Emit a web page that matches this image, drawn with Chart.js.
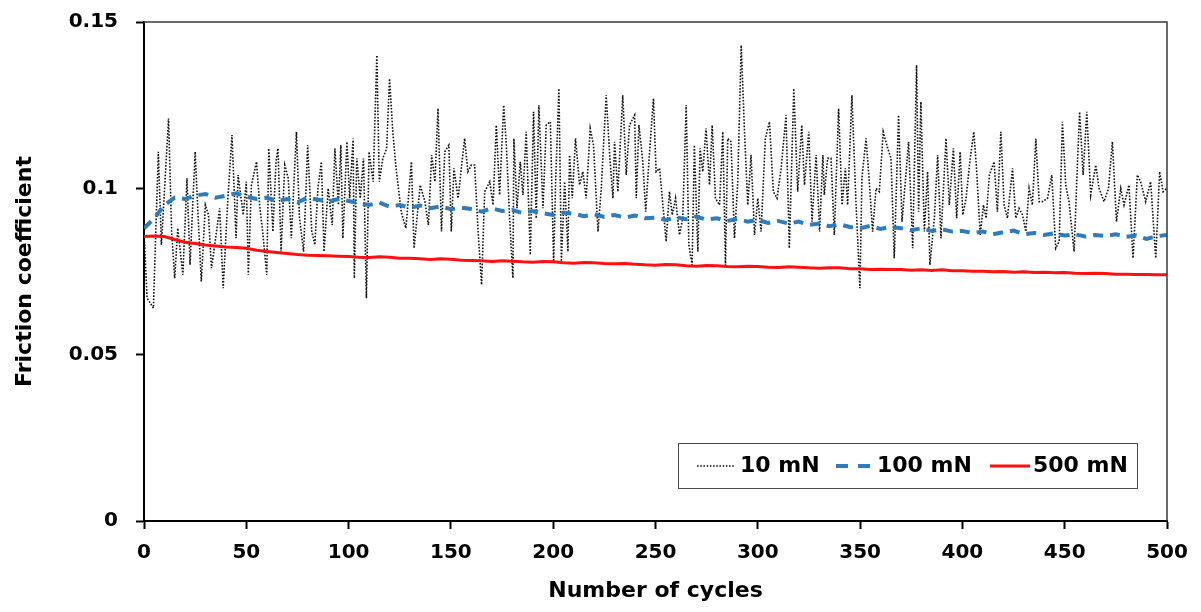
<!DOCTYPE html>
<html>
<head>
<meta charset="utf-8">
<script src="https://cdn.jsdelivr.net/npm/chart.js"></script>
<style>
	body { margin: 0; background: #fff; }
	#frictionChart { display: block; }
</style>
</head>
<body>
<canvas id="frictionChart" width="1201" height="612"></canvas>
<script>
// 10 mN (irregular spacing)
var cycles10 = [
	0, 1.5, 4.6, 7, 8.5, 12, 13.5, 15, 16.5, 19,
	21, 22.5, 25, 26.5, 28, 30, 31.5, 33, 35, 37,
	38.7, 41, 43, 45, 46, 48.5, 50, 51, 52.5, 55,
	56.5, 58, 60, 61, 63, 64.5, 65.5, 67, 68.8, 70.5,
	72, 74.5, 76, 78, 80, 82, 83.5, 85, 86.7, 88,
	90, 92, 93.3, 95, 96.2, 97.2, 99.2, 100.5, 102.2, 102.8,
	104, 105.7, 107.3, 108.7, 110, 112, 113.8, 115, 116.7, 118.6,
	120, 121.6, 123.2, 125.7, 128, 130.7, 132, 135, 137.3, 139,
	140.6, 142.2, 143.7, 145.4, 147, 149, 150.2, 151.5, 153.5, 156.7,
	158.3, 160, 161.6, 163.3, 165, 166.5, 169, 170.6, 172.2, 173.8,
	175.8, 177.1, 178.7, 180.3, 180.8, 182.3, 183.9, 185.2, 186.8, 188.8,
	190.4, 191.7, 193, 195, 196.6, 198.6, 200.2, 201.2, 202.8, 204,
	205.6, 207.2, 208, 209.3, 210.9, 212.9, 214.5, 216.1, 218.1, 219.7,
	221.9, 223.5, 225.9, 227.6, 229.2, 230, 231.6, 234, 235.7, 237.3,
	239.8, 240.6, 241.9, 243.8, 245.2, 247.1, 249, 250.3, 252, 253.6,
	255.2, 256.8, 258.2, 259.8, 261.7, 263.3, 265, 266.3, 267.9, 269,
	270.7, 271.8, 273.1, 274.7, 276.4, 277.7, 279.3, 281.3, 282.9, 284.2,
	285.3, 286.9, 288.6, 290.2, 291.9, 293.5, 295.1, 296.7, 298.4, 300,
	301.6, 303.7, 305.7, 307.6, 309.4, 311.4, 313.8, 315.4, 317.6, 319.5,
	321.5, 322.8, 324.9, 326.5, 328.5, 330.2, 331.8, 332.5, 334.1, 335.8,
	337.4, 339.5, 341.2, 342.8, 343.9, 346, 347.9, 349.9, 350.9, 352.9,
	354.5, 356.1, 357.8, 359.4, 361.3, 363.5, 365.1, 366.7, 368.8, 370.5,
	372.1, 373.7, 375.7, 377.6, 378.6, 379.7, 381.4, 383, 384.1, 386.3,
	387.9, 389.5, 392, 393.6, 395.6, 397.2, 398.9, 400.2, 401.8, 403.8,
	405.6, 407, 408.7, 410.3, 411.6, 413.2, 415.5, 417.1, 418.8, 420.4,
	422, 424.5, 426.1, 427.7, 429.4, 431, 432.6, 434.2, 435.9, 437.5,
	439.1, 441.6, 443.7, 445.6, 447.3, 448.9, 450.5, 452.1, 454.6, 456.2,
	457.3, 459, 460.8, 462.7, 465.2, 466.8, 469.2, 471.4, 473.3, 475.3,
	477.4, 479, 481.4, 483.4, 485.5, 487.1, 489.6, 492, 494.5, 496.4,
	498.1, 500
];
var mu10 = [
	0.087, 0.067, 0.064, 0.111, 0.083, 0.121, 0.087, 0.073, 0.088, 0.074,
	0.103, 0.077, 0.111, 0.091, 0.072, 0.095, 0.092, 0.076, 0.085, 0.094,
	0.070, 0.097, 0.116, 0.085, 0.104, 0.092, 0.102, 0.074, 0.101, 0.108,
	0.095, 0.087, 0.074, 0.112, 0.087, 0.108, 0.112, 0.081, 0.107, 0.103,
	0.085, 0.117, 0.091, 0.081, 0.113, 0.087, 0.083, 0.100, 0.108, 0.081,
	0.100, 0.089, 0.112, 0.095, 0.113, 0.085, 0.114, 0.097, 0.115, 0.073,
	0.109, 0.097, 0.109, 0.067, 0.111, 0.102, 0.140, 0.102, 0.109, 0.112,
	0.133, 0.117, 0.106, 0.093, 0.088, 0.108, 0.082, 0.101, 0.096, 0.089,
	0.110, 0.102, 0.124, 0.087, 0.111, 0.113, 0.087, 0.106, 0.097, 0.115,
	0.105, 0.107, 0.107, 0.087, 0.071, 0.099, 0.102, 0.095, 0.119, 0.098,
	0.125, 0.113, 0.091, 0.073, 0.115, 0.094, 0.108, 0.098, 0.117, 0.080,
	0.123, 0.091, 0.125, 0.094, 0.119, 0.120, 0.078, 0.102, 0.130, 0.078,
	0.102, 0.081, 0.110, 0.097, 0.115, 0.101, 0.105, 0.097, 0.118, 0.113,
	0.087, 0.100, 0.128, 0.110, 0.097, 0.114, 0.099, 0.128, 0.104, 0.119,
	0.122, 0.097, 0.119, 0.108, 0.093, 0.111, 0.127, 0.105, 0.106, 0.095,
	0.084, 0.099, 0.092, 0.097, 0.086, 0.091, 0.125, 0.083, 0.077, 0.113,
	0.081, 0.112, 0.105, 0.118, 0.101, 0.119, 0.097, 0.095, 0.117, 0.077,
	0.115, 0.114, 0.085, 0.102, 0.143, 0.117, 0.095, 0.110, 0.086, 0.097,
	0.087, 0.115, 0.120, 0.099, 0.097, 0.106, 0.122, 0.082, 0.130, 0.099,
	0.119, 0.101, 0.117, 0.090, 0.110, 0.087, 0.110, 0.098, 0.109, 0.109,
	0.086, 0.124, 0.095, 0.106, 0.095, 0.128, 0.097, 0.070, 0.103, 0.115,
	0.102, 0.087, 0.100, 0.099, 0.117, 0.112, 0.109, 0.079, 0.122, 0.090,
	0.102, 0.114, 0.082, 0.137, 0.093, 0.126, 0.087, 0.105, 0.077, 0.091,
	0.110, 0.085, 0.115, 0.095, 0.112, 0.091, 0.111, 0.092, 0.097, 0.109,
	0.117, 0.105, 0.086, 0.095, 0.091, 0.104, 0.108, 0.093, 0.117, 0.095,
	0.091, 0.106, 0.091, 0.094, 0.092, 0.087, 0.100, 0.095, 0.115, 0.096,
	0.096, 0.097, 0.104, 0.082, 0.084, 0.120, 0.101, 0.096, 0.081, 0.107,
	0.123, 0.104, 0.123, 0.098, 0.107, 0.100, 0.096, 0.100, 0.114, 0.090,
	0.100, 0.095, 0.101, 0.079, 0.104, 0.102, 0.096, 0.102, 0.079, 0.105,
	0.099, 0.100
];

// 100 mN and 500 mN, read every 5 cycles
var cyclesSmooth = [
	0, 5, 10, 15, 20, 25, 30, 35, 40, 45, 50, 55, 60, 65, 70, 75, 80, 85, 90, 95,
	100, 105, 110, 115, 120, 125, 130, 135, 140, 145, 150, 155, 160, 165, 170, 175, 180, 185, 190, 195,
	200, 205, 210, 215, 220, 225, 230, 235, 240, 245, 250, 255, 260, 265, 270, 275, 280, 285, 290, 295,
	300, 305, 310, 315, 320, 325, 330, 335, 340, 345, 350, 355, 360, 365, 370, 375, 380, 385, 390, 395,
	400, 405, 410, 415, 420, 425, 430, 435, 440, 445, 450, 455, 460, 465, 470, 475, 480, 485, 490, 495,
	500
];
var mu100 = [
	0.088, 0.091, 0.095, 0.0972, 0.0968, 0.0978, 0.0983, 0.0972, 0.0978, 0.0985, 0.0975, 0.0968, 0.0972, 0.0962, 0.0968, 0.0958, 0.0972, 0.0966, 0.0960, 0.0968,
	0.0962, 0.0955, 0.0950, 0.0957, 0.0945, 0.0950, 0.0942, 0.0948, 0.0940, 0.0946, 0.0937, 0.0942, 0.0938, 0.0930, 0.0940, 0.0932, 0.0935, 0.0926, 0.0932, 0.0925,
	0.0920, 0.0927, 0.0924, 0.0916, 0.0922, 0.0914, 0.0920, 0.0912, 0.0918, 0.0910, 0.0912, 0.0905, 0.0913, 0.0907, 0.0915, 0.0906, 0.0910, 0.0902, 0.0908, 0.0900,
	0.0905, 0.0896, 0.0902, 0.0894, 0.0900, 0.0890, 0.0894, 0.0886, 0.0892, 0.0884, 0.0880, 0.0887, 0.0878, 0.0884, 0.0880, 0.0874, 0.0880, 0.0872, 0.0877, 0.0870,
	0.0872, 0.0866, 0.0870, 0.0862, 0.0868, 0.0873, 0.0862, 0.0866, 0.0860, 0.0865, 0.0858, 0.0862, 0.0855, 0.0860, 0.0857, 0.0862, 0.0854, 0.0858, 0.0848, 0.0856,
	0.0860
];
var mu500 = [
	0.0855, 0.0857, 0.0855, 0.0846, 0.0838, 0.0834, 0.0830, 0.0827, 0.0824, 0.0822, 0.0820, 0.0814, 0.0810, 0.0807, 0.0804, 0.0801, 0.0799, 0.0798, 0.0797, 0.0796,
	0.0795, 0.0793, 0.0792, 0.0794, 0.0793, 0.0790, 0.0790, 0.0788, 0.0786, 0.0788, 0.0787, 0.0784, 0.0783, 0.0782, 0.0780, 0.0782, 0.0781, 0.0779, 0.0778, 0.0780,
	0.0779, 0.0776, 0.0775, 0.0777, 0.0776, 0.0774, 0.0773, 0.0774, 0.0772, 0.0770, 0.0769, 0.0771, 0.0770, 0.0767, 0.0766, 0.0768, 0.0767, 0.0765, 0.0764, 0.0766,
	0.0765, 0.0763, 0.0762, 0.0764, 0.0763, 0.0761, 0.0760, 0.0761, 0.0761, 0.0758, 0.0758, 0.0756, 0.0757, 0.0756, 0.0756, 0.0754, 0.0755, 0.0753, 0.0755, 0.0752,
	0.0752, 0.0751, 0.0751, 0.0749, 0.0750, 0.0748, 0.0749, 0.0747, 0.0748, 0.0746, 0.0747, 0.0745, 0.0744, 0.0745, 0.0744, 0.0742, 0.0742, 0.0741, 0.0741, 0.0740,
	0.0740
];

var seriesNames = ['10 mN', '100 mN', '500 mN'];
var yTickLabels = ['0', '0.05', '0.1', '0.15'];

function toPoints(xs, ys) {
	return xs.map(function(x, i) { return {x: x, y: ys[i]}; });
}

Chart.defaults.font.family = "'DejaVu Sans', sans-serif";
Chart.defaults.font.weight = 'bold';
Chart.defaults.color = '#000000';

// top/right frame of the plot area and the boxed legend inside it
var frameLegend = {
	id: 'frameLegend',
	afterDraw: function(chart) {
		var ctx = chart.ctx;
		var a = chart.chartArea;
		ctx.save();
		ctx.strokeStyle = '#3a3a3a';
		ctx.lineWidth = 1.5;
		ctx.beginPath();
		ctx.moveTo(a.left, a.top);
		ctx.lineTo(a.right, a.top);
		ctx.lineTo(a.right, a.bottom);
		ctx.stroke();

		var boxW = 459, boxH = 45;
		var bx = a.right - 30 - boxW;
		var by = a.bottom - 33 - boxH;
		ctx.fillStyle = '#ffffff';
		ctx.fillRect(bx, by, boxW, boxH);
		ctx.strokeStyle = '#4a4a4a';
		ctx.lineWidth = 1;
		ctx.strokeRect(bx + 0.5, by + 0.5, boxW, boxH);

		var cy = by + boxH / 2 + 0.5;
		var sampleStart = [19, 158, 312];
		var sampleLen = [38, 34, 40];
		var textStart = [62, 199, 355];
		chart.data.datasets.forEach(function(ds, i) {
			ctx.beginPath();
			ctx.strokeStyle = ds.borderColor;
			ctx.lineWidth = ds.borderWidth;
			ctx.setLineDash(i == 1 ? [12, 10] : (ds.borderDash || []));
			ctx.moveTo(bx + sampleStart[i], cy);
			ctx.lineTo(bx + sampleStart[i] + sampleLen[i], cy);
			ctx.stroke();
			ctx.setLineDash([]);
			ctx.fillStyle = '#000000';
			ctx.font = "bold 22px 'DejaVu Sans', sans-serif";
			ctx.textAlign = 'left';
			ctx.textBaseline = 'middle';
			ctx.fillText(ds.label, bx + textStart[i], cy);
		});
		ctx.restore();
	}
};

var frictionChart = new Chart(document.getElementById('frictionChart'), {
	type: 'line',
	data: {
		datasets: [{
			label: seriesNames[0],
			data: toPoints(cycles10, mu10),
			borderColor: '#111111',
			borderWidth: 1.6,
			borderDash: [1.6, 1.6],
			order: 3
		}, {
			label: seriesNames[1],
			data: toPoints(cyclesSmooth, mu100),
			borderColor: '#2e7cc0',
			borderWidth: 4,
			borderDash: [10, 7],
			order: 2
		}, {
			label: seriesNames[2],
			data: toPoints(cyclesSmooth, mu500),
			borderColor: '#ff1010',
			borderWidth: 3,
			order: 1
		}]
	},
	plugins: [frameLegend],
	options: {
		responsive: false,
		animation: false,
		devicePixelRatio: 1,
		elements: {
			point: { radius: 0 },
			line: { tension: 0, fill: false }
		},
		layout: {
			padding: { top: 22, right: 34, left: 0, bottom: 0 }
		},
		plugins: {
			legend: { display: false },
			tooltip: { enabled: false }
		},
		scales: {
			x: {
				type: 'linear',
				min: 0,
				max: 500,
				ticks: {
					stepSize: 50,
					padding: 12,
					font: { size: 20, weight: 'bold' }
				},
				grid: {
					drawOnChartArea: false,
					tickLength: 8,
					tickColor: '#000000',
					tickWidth: 2
				},
				border: { color: '#000000', width: 2 },
				title: {
					display: true,
					text: 'Number of cycles',
					font: { size: 22, weight: 'bold' },
					padding: { top: 0, bottom: 8 }
				},
				afterFit: function(scale) {
					scale.height = 91;
					scale.paddingLeft = 0;
					scale.paddingRight = 0;
				}
			},
			y: {
				min: 0,
				max: 0.15,
				ticks: {
					stepSize: 0.05,
					padding: 18,
					font: { size: 20, weight: 'bold' },
					callback: function(value, index) { return yTickLabels[index]; }
				},
				grid: {
					drawOnChartArea: false,
					tickLength: 8,
					tickColor: '#000000',
					tickWidth: 2
				},
				border: { color: '#000000', width: 2 },
				title: {
					display: true,
					text: 'Friction coefficient',
					font: { size: 22, weight: 'bold' },
					padding: { top: 12, bottom: 0 }
				},
				afterFit: function(scale) {
					scale.width = 144;
					scale.paddingTop = 0;
					scale.paddingBottom = 0;
				}
			}
		}
	}
});
</script>
</body>
</html>
